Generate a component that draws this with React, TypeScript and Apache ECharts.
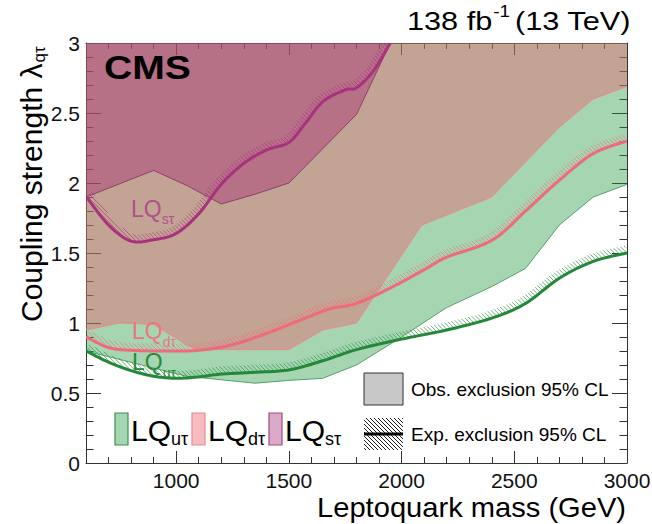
import React, { useEffect, useRef } from 'react';
import * as echarts from 'echarts';

// ---- Observed 95% CL exclusion boundaries (region above each line is excluded) ----
const obsMassU = [600, 1045, 1350, 1500, 1650, 1800, 2000, 2200, 2400, 2550, 2700, 2850, 3000];
const obsLambdaU = [0.80, 0.62, 0.57, 0.59, 0.605, 0.70, 0.90, 1.11, 1.26, 1.39, 1.70, 1.90, 1.99];
const obsMassD = [600, 750, 900, 1050, 1100, 1500, 1650, 1800, 2090, 2400, 2700, 2850, 3000];
const obsLambdaD = [0.95, 1.0, 0.99, 0.84, 0.81, 0.81, 0.95, 1.0, 1.70, 1.90, 2.40, 2.60, 2.69];
const obsMassS = [600, 900, 1050, 1200, 1350, 1500, 1800, 1950];
const obsLambdaS = [1.90, 2.09, 1.98, 1.85, 1.92, 2.0, 2.49, 3.0];

// ---- Expected 95% CL exclusion limits ----
const expMassU = [600, 700, 800, 900, 1000, 1100, 1200, 1350, 1500, 1650, 1800, 2000, 2200, 2400, 2550, 2700, 2850, 3000];
const expLambdaU = [0.80, 0.72, 0.66, 0.62, 0.605, 0.615, 0.635, 0.648, 0.665, 0.73, 0.81, 0.885, 0.95, 1.035, 1.14, 1.32, 1.44, 1.50];
const expMassD = [600, 700, 800, 950, 1100, 1250, 1400, 1550, 1680, 1800, 1950, 2100, 2200, 2400, 2550, 2700, 2850, 3000];
const expLambdaD = [0.90, 0.825, 0.805, 0.80, 0.805, 0.845, 0.925, 1.02, 1.10, 1.14, 1.25, 1.38, 1.47, 1.59, 1.80, 2.02, 2.21, 2.30];
const expMassS = [600, 700, 800, 900, 1000, 1100, 1200, 1300, 1400, 1500, 1570, 1650, 1750, 1800, 1875, 1950];
const expLambdaS = [1.905, 1.70, 1.585, 1.595, 1.64, 1.78, 1.99, 2.14, 2.235, 2.29, 2.42, 2.58, 2.665, 2.68, 2.80, 3.0];

// ---- Axis ticks ----
const xMajorTicks = [1000, 1500, 2000, 2500, 3000];
const yTicks = [0, 0.5, 1, 1.5, 2, 2.5, 3];

const FONT = "'Liberation Sans', Arial, Helvetica, sans-serif";

const COLORS = {
  u: { line: '#23883a', fill: 'rgba(30,150,60,0.40)', edge: '#5a9e6a', text: '#2a8a3c', box: '#3f8f50' },
  d: { line: '#ef6a7a', fill: 'rgba(235,95,105,0.42)', edge: '#ee8890', text: '#f07482', box: '#ec8a92' },
  s: { line: '#a8327e', fill: 'rgba(165,35,115,0.39)', edge: '#8e3f6a', text: '#b0508a', box: '#a04a80' },
};

const zip = (xs: number[], ys: number[]) => xs.map((x, i) => [x, ys[i]]);

let measureCtx: CanvasRenderingContext2D | null = null;
function measure(text: string, size: number, weight = 'normal') {
  if (!measureCtx) measureCtx = document.createElement('canvas').getContext('2d');
  measureCtx!.font = `${weight} ${size}px "Liberation Sans"`;
  return measureCtx!.measureText(text).width;
}

// Catmull-Rom smoothing of pixel-space control points
function smoothCurve(pts: number[][], steps = 14): number[][] {
  const out: number[][] = [];
  const n = pts.length;
  for (let i = 0; i < n - 1; i++) {
    const p0 = pts[Math.max(0, i - 1)], p1 = pts[i], p2 = pts[i + 1], p3 = pts[Math.min(n - 1, i + 2)];
    for (let k = 0; k < steps; k++) {
      const t = k / steps, t2 = t * t, t3 = t2 * t;
      out.push([0, 1].map((d) =>
        0.5 * (2 * p1[d] + (-p0[d] + p2[d]) * t + (2 * p0[d] - 5 * p1[d] + 4 * p2[d] - p3[d]) * t2 +
          (-p0[d] + 3 * p1[d] - 3 * p2[d] + p3[d]) * t3)));
    }
  }
  out.push(pts[n - 1]);
  return out;
}

// Strip on the excluded (upper) side of a curve
function bandPolygon(curve: number[][], w: number): number[][] {
  const n = curve.length;
  const off = curve.map((p, i) => {
    const a = curve[Math.max(0, i - 1)], b = curve[Math.min(n - 1, i + 1)];
    const dx = b[0] - a[0], dy = b[1] - a[1];
    const L = Math.hypot(dx, dy) || 1;
    return [p[0] + (dy / L) * w, p[1] - (dx / L) * w];
  });
  return curve.concat(off.reverse());
}

// Diagonal "\" hatch lines clipped to a polygon
function hatchSegments(poly: number[][], step: number): number[][] {
  let cmin = Infinity, cmax = -Infinity;
  poly.forEach((p) => {
    const c = p[0] - p[1];
    cmin = Math.min(cmin, c);
    cmax = Math.max(cmax, c);
  });
  const segs: number[][] = [];
  for (let c = Math.ceil(cmin / step) * step; c <= cmax; c += step) {
    const hits: number[][] = [];
    for (let i = 0; i < poly.length; i++) {
      const a = poly[i], b = poly[(i + 1) % poly.length];
      const fa = a[0] - a[1] - c, fb = b[0] - b[1] - c;
      if ((fa < 0) !== (fb < 0)) {
        const t = fa / (fa - fb);
        hits.push([a[0] + t * (b[0] - a[0]), a[1] + t * (b[1] - a[1])]);
      }
    }
    hits.sort((p, q) => p[0] - q[0]);
    for (let j = 0; j + 1 < hits.length; j += 2) segs.push([hits[j][0], hits[j][1], hits[j + 1][0], hits[j + 1][1]]);
  }
  return segs;
}

function obsSeries(name: string, xs: number[], ys: number[], c: { fill: string; edge: string }) {
  return {
    type: 'line',
    name,
    data: zip(xs, ys),
    symbol: 'none',
    smooth: false,
    silent: true,
    z: 1,
    lineStyle: { color: c.edge, width: 1 },
    areaStyle: { color: c.fill, origin: 'end', opacity: 1 },
  };
}

function expSeries(name: string, xs: number[], ys: number[], color: string) {
  return {
    type: 'custom',
    name,
    coordinateSystem: 'cartesian2d',
    xAxisIndex: 0,
    yAxisIndex: 0,
    clip: true,
    silent: true,
    z: 3,
    data: [[1800, 1.5]],
    renderItem: (_params: any, api: any) => {
      const pts = xs.map((x, i) => api.coord([x, ys[i]]));
      const curve = smoothCurve(pts);
      const segs = hatchSegments(bandPolygon(curve, 7.5), 4.2);
      const children: any[] = segs.map((s) => ({
        type: 'line',
        shape: { x1: s[0], y1: s[1], x2: s[2], y2: s[3] },
        style: { stroke: color, lineWidth: 1, opacity: 0.65 },
      }));
      children.push({
        type: 'polyline',
        shape: { points: curve },
        style: { stroke: color, lineWidth: 3, fill: null, lineJoin: 'round' },
      });
      return { type: 'group', children };
    },
  };
}

function text(x: number, y: number, str: string, size: number, color: string, extra: any = {}) {
  const { weight, align, scaleX, scaleY } = extra;
  return {
    type: 'text',
    x,
    y,
    z: 50,
    scaleX: scaleX ?? 1,
    scaleY: scaleY ?? 1,
    style: {
      text: str,
      fontSize: size,
      fontFamily: FONT,
      fontWeight: weight ?? 'normal',
      fill: color,
      align: align ?? 'left',
      verticalAlign: 'middle',
    },
  };
}

// "LQ" with a subscript
function lqLabel(x: number, yc: number, sub: string, size: number, subSize: number, subDy: number, color: string) {
  const w = measure('LQ', size);
  return [text(x, yc, 'LQ', size, color), text(x + w, yc + subDy, sub, subSize, color)];
}

function buildGraphic() {
  const els: any[] = [];

  // CMS label
  els.push(text(104, 67, 'CMS', 34, '#000', { weight: 'bold', scaleX: 1.15 }));

  // Luminosity / energy header
  const hs = 26, sx = 1.18;
  const w1 = measure('138 fb', hs) * sx;
  const wSup = measure('-1', 16) * sx;
  els.push(text(407, 21, '138 fb', hs, '#000', { scaleX: sx }));
  els.push(text(407 + w1 + 1, 12, '-1', 16, '#000', { scaleX: sx }));
  els.push(text(407 + w1 + wSup + 6, 21, '(13 TeV)', hs, '#000', { scaleX: sx }));

  // Axis titles
  els.push(text(626, 507, 'Leptoquark mass (GeV)', 28, '#000', { align: 'right', scaleX: 1.04 }));
  const yt = 30;
  const wMain = measure('Coupling strength λ', yt);
  els.push({
    type: 'group',
    x: 31,
    y: 322,
    rotation: Math.PI / 2,
    z: 50,
    children: [
      { type: 'text', x: 0, y: 0, style: { text: 'Coupling strength λ', fontSize: yt, fontFamily: FONT, fill: '#000', align: 'left', verticalAlign: 'middle' } },
      { type: 'text', x: wMain + 1, y: 8, style: { text: 'qτ', fontSize: 17, fontFamily: FONT, fill: '#000', align: 'left', verticalAlign: 'middle' } },
    ],
  });

  // In-plot curve labels
  els.push(...lqLabel(131, 209, 'sτ', 23, 14, 10, COLORS.s.text));
  els.push(...lqLabel(132, 331, 'dτ', 23, 14, 11, COLORS.d.text));
  els.push(...lqLabel(132, 362, 'uτ', 23, 14, 11, COLORS.u.text));

  // Legend: signal boxes
  const boxes: [number, string, any][] = [
    [115, 'uτ', COLORS.u],
    [192, 'dτ', COLORS.d],
    [269, 'sτ', COLORS.s],
  ];
  boxes.forEach(([bx, sub, c]) => {
    els.push({ type: 'rect', z: 50, shape: { x: bx, y: 413, width: 13, height: 32 }, style: { fill: c.fill, stroke: c.box, lineWidth: 1.2 } });
    els.push(...lqLabel(bx + 16, 430, sub, 30, 18, 9, '#000'));
  });

  // Legend: observed / expected
  els.push({ type: 'rect', z: 50, shape: { x: 364, y: 373, width: 39, height: 32 }, style: { fill: '#c8c8c8', stroke: '#333', lineWidth: 1 } });
  els.push(text(411, 389, 'Obs. exclusion 95% CL', 19, '#000'));
  const hx0 = 364, hy0 = 418, hx1 = 403, hy1 = 450;
  hatchSegments([[hx0, hy0], [hx1, hy0], [hx1, hy1], [hx0, hy1]], 4).forEach((s) => {
    els.push({ type: 'line', z: 50, shape: { x1: s[0], y1: s[1], x2: s[2], y2: s[3] }, style: { stroke: '#222', lineWidth: 1 } });
  });
  els.push({ type: 'line', z: 51, shape: { x1: hx0, y1: 434, x2: hx1, y2: 434 }, style: { stroke: '#000', lineWidth: 3 } });
  els.push(text(411, 434, 'Exp. exclusion 95% CL', 19, '#000'));

  return els;
}

function buildOption() {
  const axisColor = '#333';
  const xBase = {
    type: 'value',
    min: 600,
    max: 3000,
    interval: 100,
    gridIndex: 0,
    splitLine: { show: false },
  };
  const yBase = {
    type: 'value',
    min: 0,
    max: 3,
    interval: 0.5,
    splitLine: { show: false },
    minorSplitLine: { show: false },
    axisLine: { show: true, onZero: false, lineStyle: { color: axisColor, width: 1 } },
    axisTick: { show: true, inside: true, length: 15, lineStyle: { color: axisColor } },
    minorTick: { show: true, splitNumber: 5, length: 7.5, lineStyle: { color: axisColor } },
  };
  return {
    animation: false,
    backgroundColor: '#fff',
    grid: { left: 86, right: 25, top: 43, bottom: 61, show: false, containLabel: false, outerBoundsMode: 'none' },
    xAxis: [
      {
        ...xBase,
        position: 'bottom',
        axisLine: { show: true, onZero: false, lineStyle: { color: axisColor, width: 1 } },
        axisTick: { show: true, inside: true, length: 6, lineStyle: { color: axisColor } },
        axisLabel: {
          show: true,
          fontSize: 21,
          fontFamily: FONT,
          color: '#111',
          margin: 7,
          lineHeight: 21,
          formatter: (v: number) => (xMajorTicks.includes(v) ? String(v) : ''),
        },
      },
      {
        ...xBase,
        position: 'bottom',
        axisLine: { show: false, onZero: false },
        axisTick: { show: true, inside: true, length: 12, customValues: xMajorTicks, lineStyle: { color: axisColor } },
        axisLabel: { show: false },
      },
      {
        ...xBase,
        position: 'top',
        axisLine: { show: true, onZero: false, lineStyle: { color: axisColor, width: 1 } },
        axisTick: { show: true, inside: true, length: 6, lineStyle: { color: axisColor } },
        axisLabel: { show: false },
      },
      {
        ...xBase,
        position: 'top',
        axisLine: { show: false, onZero: false },
        axisTick: { show: true, inside: true, length: 12, customValues: xMajorTicks, lineStyle: { color: axisColor } },
        axisLabel: { show: false },
      },
    ],
    yAxis: [
      {
        ...yBase,
        position: 'left',
        axisLabel: {
          show: true,
          fontSize: 21,
          fontFamily: FONT,
          color: '#111',
          margin: 6,
          formatter: (v: number) => (yTicks.includes(v) ? String(v) : ''),
        },
      },
      { ...yBase, position: 'right', axisLabel: { show: false } },
    ],
    series: [
      obsSeries('LQ uτ observed', obsMassU, obsLambdaU, COLORS.u),
      obsSeries('LQ dτ observed', obsMassD, obsLambdaD, COLORS.d),
      obsSeries('LQ sτ observed', obsMassS, obsLambdaS, COLORS.s),
      expSeries('LQ uτ expected', expMassU, expLambdaU, COLORS.u.line),
      expSeries('LQ dτ expected', expMassD, expLambdaD, COLORS.d.line),
      expSeries('LQ sτ expected', expMassS, expLambdaS, COLORS.s.line),
    ],
    graphic: { elements: buildGraphic() },
  };
}

export default function App() {
  const ref = useRef<HTMLDivElement>(null);
  useEffect(() => {
    const chart = echarts.init(ref.current!, null, { renderer: 'svg' });
    chart.setOption(buildOption() as any);
    return () => chart.dispose();
  }, []);
  return (
    <div
      ref={ref}
      style={{ position: 'fixed', left: 0, top: 0, width: 652, height: 524, background: '#fff' }}
    />
  );
}
